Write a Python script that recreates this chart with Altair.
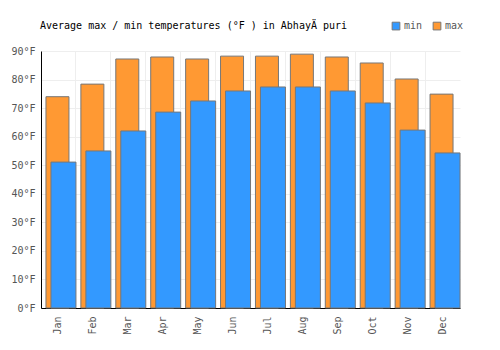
import altair as alt
import pandas as pd

months = ["Jan", "Feb", "Mar", "Apr", "May", "Jun", "Jul", "Aug", "Sep", "Oct", "Nov", "Dec"]
tmax = [74.0, 78.4, 87.2, 87.9, 87.2, 88.2, 88.2, 88.9, 87.9, 85.8, 80.2, 74.9]
tmin = [51.1, 55.0, 62.0, 68.6, 72.5, 76.0, 77.4, 77.4, 76.0, 71.8, 62.3, 54.3]
title_text = "Average max / min temperatures (°F ) in AbhayÄ puri"

df = pd.DataFrame({"month": months, "max": tmax, "min": tmin})
long = df.melt("month", var_name="series", value_name="temp")

FONT = "DejaVu Sans Mono"
FS = 10
color = alt.Color("series:N", scale=alt.Scale(domain=["min", "max"], range=["#3399ff", "#ff9933"]),
                  legend=alt.Legend(title=None, orient="none", legendX=350, legendY=-30, direction="horizontal",
                                    symbolType="square", symbolSize=60, symbolStrokeColor="#777",
                                    symbolStrokeWidth=1, labelFont=FONT, labelFontSize=FS,
                                    labelColor="#555", columnPadding=8, labelOffset=3))

x = alt.X("month:N", sort=months, title=None,
          scale=alt.Scale(paddingInner=0, paddingOuter=0),
          axis=alt.Axis(labelAngle=-90, labelFont=FONT, labelFontSize=FS, labelColor="#555",
                        ticks=False, grid=True, gridColor="#eeeeee", bandPosition=0,
                        domainColor="#000", labelPadding=8, labelBaseline="middle"))
y = alt.Y("temp:Q", title=None, scale=alt.Scale(domain=[0, 90], nice=False),
          axis=alt.Axis(values=list(range(0, 91, 10)), labelExpr="datum.value + '°F'",
                        labelFont=FONT, labelFontSize=FS, labelColor="#555", ticks=False,
                        gridColor="#eeeeee", domainColor="#000", labelPadding=6))

bmax = alt.Chart(long).transform_filter("datum.series == 'max'").mark_bar(
    width=23, xOffset=-1, stroke="#777", strokeWidth=1).encode(x=x, y=y, color=color)
bmin = alt.Chart(long).transform_filter("datum.series == 'min'").mark_bar(
    width=25, xOffset=5, stroke="#777", strokeWidth=1).encode(x=x, y=y, color=color)

title = alt.Chart(pd.DataFrame({"t": [title_text]})).mark_text(
    align="left", baseline="middle", font=FONT, fontSize=FS, color="#000").encode(
    text="t:N", x=alt.value(-1), y=alt.value(-25))

chart = alt.layer(bmax, bmin, title).properties(
    width=419, height=257,
    autosize=alt.AutoSizeParams(type="none"),
    padding={"left": 41, "top": 51, "right": 40, "bottom": 42},
).configure_view(stroke=None)

chart.save("out.html", embed_options={"renderer": "svg", "actions": False})
